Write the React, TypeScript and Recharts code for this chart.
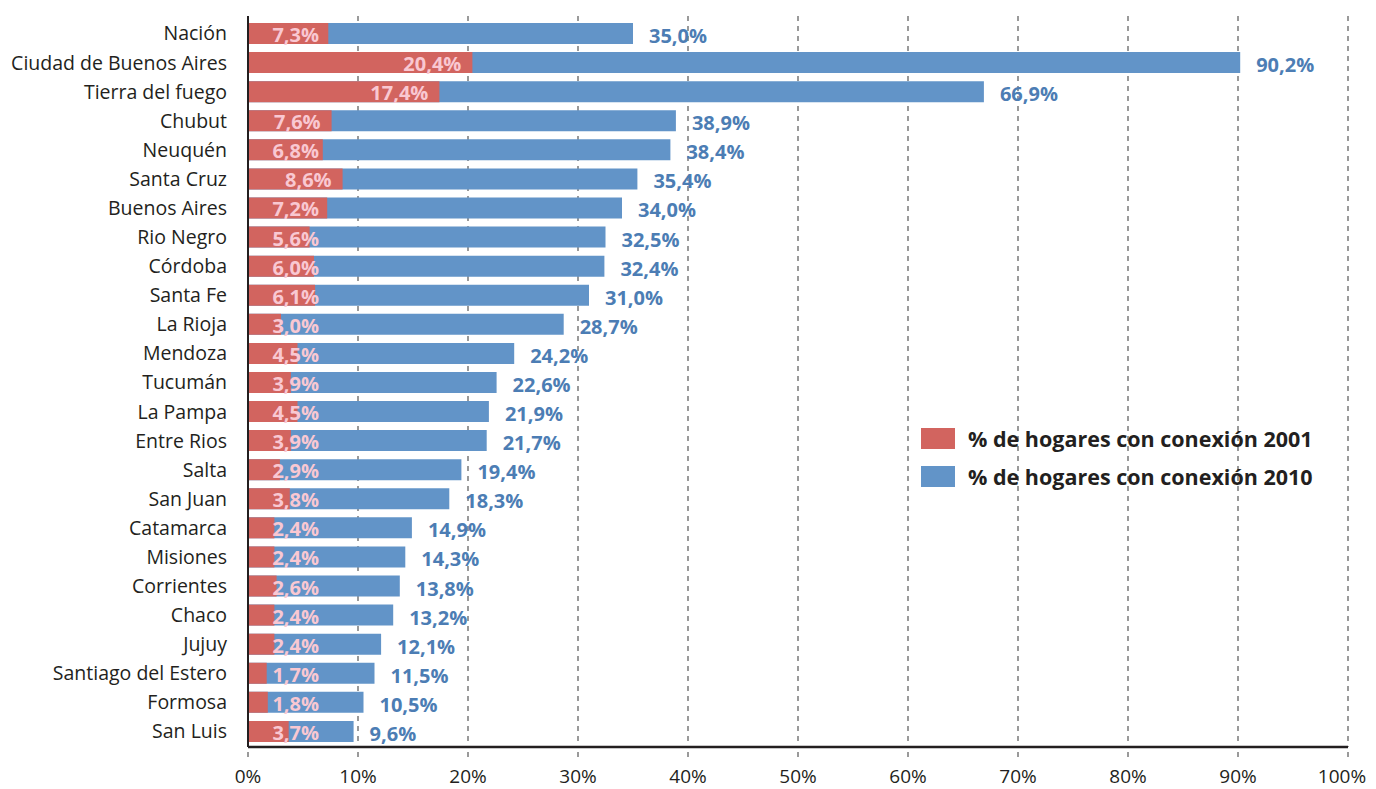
import React from "react";
import { BarChart, Bar, XAxis, YAxis, CartesianGrid } from "recharts";

const provincias = [
  "Nación",
  "Ciudad de Buenos Aires",
  "Tierra del fuego",
  "Chubut",
  "Neuquén",
  "Santa Cruz",
  "Buenos Aires",
  "Rio Negro",
  "Córdoba",
  "Santa Fe",
  "La Rioja",
  "Mendoza",
  "Tucumán",
  "La Pampa",
  "Entre Rios",
  "Salta",
  "San Juan",
  "Catamarca",
  "Misiones",
  "Corrientes",
  "Chaco",
  "Jujuy",
  "Santiago del Estero",
  "Formosa",
  "San Luis",
];

const conexion2001 = [
  7.3, 20.4, 17.4, 7.6, 6.8, 8.6, 7.2, 5.6, 6.0, 6.1, 3.0, 4.5, 3.9, 4.5, 3.9, 2.9, 3.8, 2.4, 2.4, 2.6, 2.4,
  2.4, 1.7, 1.8, 3.7,
];

const conexion2010 = [
  35.0, 90.2, 66.9, 38.9, 38.4, 35.4, 34.0, 32.5, 32.4, 31.0, 28.7, 24.2, 22.6, 21.9, 21.7, 19.4, 18.3, 14.9,
  14.3, 13.8, 13.2, 12.1, 11.5, 10.5, 9.6,
];

const xTicks = [0, 10, 20, 30, 40, 50, 60, 70, 80, 90, 100];

const seriesNames = ["% de hogares con conexión 2001", "% de hogares con conexión 2010"];

const RED = "#D2645F";
const BLUE = "#6294C8";
const FONT = "'Open Sans', 'DejaVu Sans', sans-serif";

const data = provincias.map((name, i) => ({
  name,
  c2001: conexion2001[i],
  c2010: conexion2010[i],
}));

const fmt = (v: number) => v.toFixed(1).replace(".", ",") + "%";

const RedLabel = (props: any) => {
  const { x, y, width, height, value } = props;
  const end = Math.max(x + width - 11, x + 71);
  return (
    <text
      x={end}
      y={y + height / 2 + 1}
      textAnchor="end"
      dominantBaseline="central"
      fill="#F9C8D2"
      fontSize={20}
      fontWeight={700}
      fontFamily={FONT}
    >
      {fmt(value)}
    </text>
  );
};

const BlueLabel = (props: any) => {
  const { x, y, width, height, value } = props;
  return (
    <text
      x={x + width + 16}
      y={y + height / 2 + 2}
      textAnchor="start"
      dominantBaseline="central"
      fill="#4C7DB4"
      fontSize={20}
      fontWeight={700}
      fontFamily={FONT}
    >
      {fmt(value)}
    </text>
  );
};

// el 100% se corre un poco a la izquierda para que entre, como en el original
const XTick = (props: any) => {
  const { x, y, payload } = props;
  const shift = payload.value === 100 ? -6 : 0;
  return (
    <text
      x={x + shift}
      y={y}
      dy="0.71em"
      textAnchor="middle"
      fontSize={19}
      fill="#231F20"
      fontFamily={FONT}
    >
      {`${payload.value}%`}
    </text>
  );
};

// leyenda dibujada aparte para que no le quite alto al grafico
const LegendBox = () => (
  <div style={{ position: "absolute", left: 913, top: 411, fontFamily: FONT }}>
    {seriesNames.map((n, i) => (
      <div key={n} style={{ display: "flex", alignItems: "center", height: 38 }}>
        <div style={{ width: 34, height: 21, background: i === 0 ? RED : BLUE, marginRight: 13 }} />
        <span style={{ fontSize: 21.5, fontWeight: 700, color: "#231F20", whiteSpace: "nowrap" }}>{n}</span>
      </div>
    ))}
  </div>
);

export default function App() {
  return (
    <div style={{ position: "relative", width: 1360, height: 781 }}>
      <BarChart
        width={1360}
        height={781}
        data={data}
        layout="vertical"
        margin={{ top: 8, right: 20, left: 0, bottom: 0 }}
        barSize={21}
        barGap={-21}
      >
        <CartesianGrid horizontal={false} stroke="#9a9a9a" strokeWidth={2} strokeDasharray="5 5" />
        <XAxis
          type="number"
          domain={[0, 100]}
          ticks={xTicks}
          height={42}
          tickSize={10}
          tickMargin={13}
          tickLine={{ stroke: "#9a9a9a", strokeWidth: 2, strokeDasharray: "5 5" }}
          axisLine={{ stroke: "#231F20", strokeWidth: 2.5 }}
          tick={<XTick />}
          interval={0}
        />
        <YAxis
          type="category"
          dataKey="name"
          width={240}
          padding={{ top: 3, bottom: 1 }}
          tickLine={false}
          tickSize={0}
          tickMargin={21}
          axisLine={{ stroke: "#231F20", strokeWidth: 2 }}
          tick={{ fontSize: 19.5, fill: "#231F20", fontFamily: FONT }}
          interval={0}
        />
        <Bar dataKey="c2010" name={seriesNames[1]} fill={BLUE} isAnimationActive={false} label={BlueLabel} />
        <Bar dataKey="c2001" name={seriesNames[0]} fill={RED} isAnimationActive={false} label={RedLabel} />
      </BarChart>
      <LegendBox />
    </div>
  );
}
